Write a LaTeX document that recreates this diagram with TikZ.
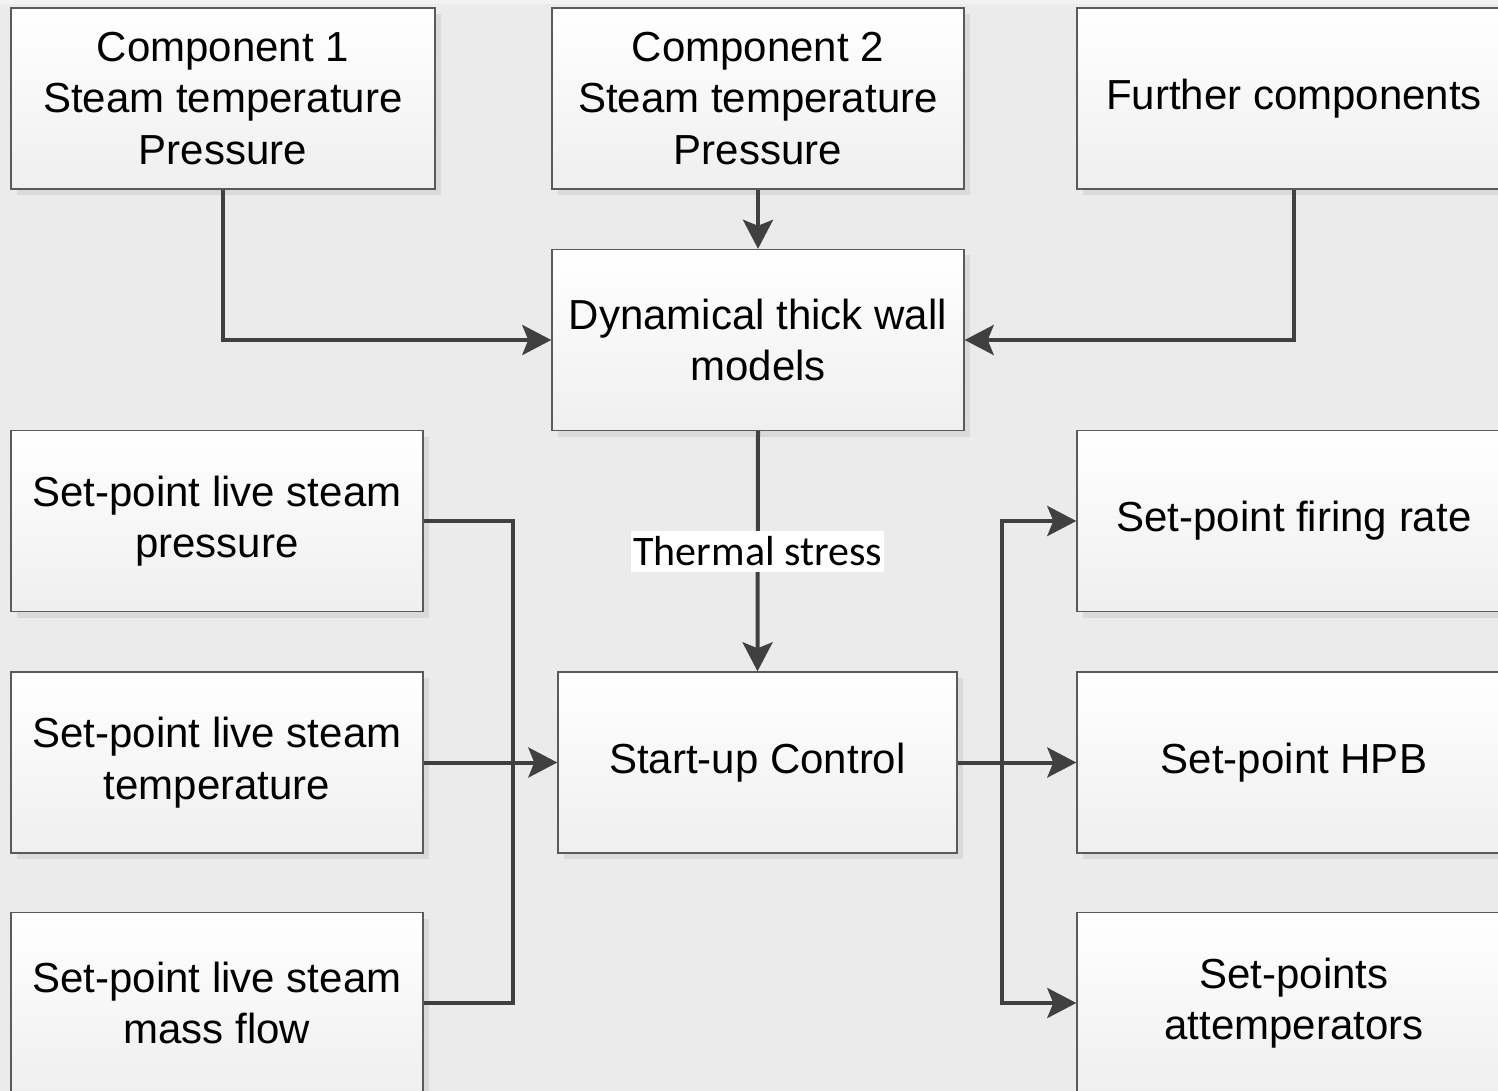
\documentclass[tikz,border=0pt]{standalone}
\usepackage{fontspec}
\setmainfont{Liberation Sans}
\newfontfamily\labelfont{Carlito}
\usetikzlibrary{arrows.meta,shadows}

\definecolor{canvas}{HTML}{EBEBEB}
\definecolor{canvastop}{HTML}{F2F2F2}
\definecolor{boxline}{HTML}{5A5A5A}
\definecolor{boxshade}{HTML}{DADADA}
\definecolor{boxbottom}{HTML}{EFEFEF}
\definecolor{wire}{HTML}{404040}

\tikzset{
  block/.style={
    draw=boxline, line width=0.7pt,
    top color=white, bottom color=boxbottom,
    general shadow={fill=boxshade, shadow xshift=3pt, shadow yshift=-3pt},
    rectangle, align=center, inner sep=0pt,
    font=\fontsize{21pt}{25.75pt}\selectfont
  },
  narrow/.style={minimum width=206pt},
  tall/.style={minimum height=90.5pt},
  flow/.style={draw=wire, line width=2pt},
  feed/.style={flow, -{Stealth[length=14.5pt, width=15pt, inset=3pt]}},
  tag/.style={fill=white, inner xsep=1pt, inner ysep=3pt,
    font=\labelfont\fontsize{21pt}{25pt}\selectfont}
}

\begin{document}
\begin{tikzpicture}[x=0.5pt, y=-0.5pt]
  % canvas
  \fill[canvas] (0,0) rectangle (1498,1091);
  \fill[canvastop] (0,0) rectangle (1498,4);
  \useasboundingbox (0,0) rectangle (1498,1091);

  % component inputs
  \node[block, tall, minimum width=212pt] (c1) at (223,98.5)
    {Component 1\\Steam temperature\\Pressure};
  \node[block, tall, narrow] (c2) at (758,98.5)
    {Component 2\\Steam temperature\\Pressure};
  \node[block, tall, minimum width=217pt] (fur) at (1294,98.5)
    {Further components};

  % wall model
  \node[block, tall, narrow] (dyn) at (758,340)
    {Dynamical thick wall\\models};

  % set-point inputs
  \node[block, tall, narrow] (spp) at (217,521)
    {Set-point live steam\\pressure};
  \node[block, tall, narrow] (spt) at (217,762.5)
    {Set-point live steam\\temperature};
  \node[block, tall, narrow] (spm) at (217,1003)
    {Set-point live steam\\mass flow};

  % controller
  \node[block, tall, minimum width=199.5pt] (su) at (757.5,762.5)
    {Start-up Control};

  % outputs
  \node[block, tall, minimum width=217pt] (fir) at (1294,521)
    {Set-point firing rate};
  \node[block, tall, minimum width=217pt] (hpb) at (1294,762.5)
    {Set-point HPB};
  \node[block, tall, minimum width=217pt] (att) at (1294,1003)
    {Set-points\\attemperators};

  % junctions
  \coordinate (busL) at (513,762.5);
  \coordinate (busR) at (1002,762.5);

  % connectors into the wall model
  \draw[feed] (c1.south) |- (dyn.west);
  \draw[feed] (c2.south) -- (dyn.north);
  \draw[feed] (fur.south) |- (dyn.east);

  % wall model to controller
  \draw[feed] (dyn.south) -- node[tag] (ts) {Thermal stress} (su.north);

  % set-points into the controller
  \draw[flow] (spp.east) -| (busL);
  \draw[flow] (spm.east) -| (busL);
  \draw[feed] (spt.east) -- (su.west);

  % controller outputs
  \draw[feed] (su.east) -- (hpb.west);
  \draw[feed] (busR) |- (fir.west);
  \draw[feed] (busR) |- (att.west);
\end{tikzpicture}
\end{document}
